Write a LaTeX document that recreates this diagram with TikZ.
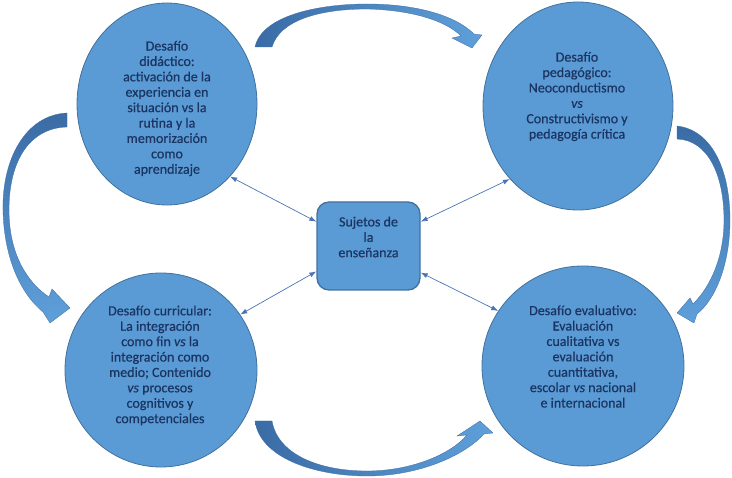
\documentclass[tikz,border=0pt]{standalone}
\usepackage{fontspec}
\setmainfont[FakeBold=0.6]{Carlito}
\usetikzlibrary{shapes.geometric,arrows.meta}
\definecolor{ellfill}{HTML}{5B9BD5}
\definecolor{ellborder}{HTML}{41719C}
\definecolor{txtcol}{HTML}{1B3562}
\definecolor{linkcol}{HTML}{4A74B5}
\definecolor{arrowdark}{HTML}{3A6BA5}
\definecolor{arrowlight}{HTML}{5FA0DA}
\begin{document}
\begin{tikzpicture}[x=1pt,y=-1pt,
  ell/.style={ellipse,draw=ellborder,fill=ellfill,line width=0.8pt,inner sep=0pt},
  centre/.style={rectangle,rounded corners=12pt,draw=ellborder,fill=ellfill,line width=1.3pt,inner sep=0pt,minimum width=103pt,minimum height=88pt},
  txt/.style={text=txtcol,align=center,font=\fontsize{14}{15.4}\selectfont,inner sep=0pt},
  link/.style={draw=linkcol,line width=0.7pt,{Latex[length=7pt,width=5pt]}-{Latex[length=7pt,width=5pt]}},
  barrow/.style={draw=arrowdark,line width=0.3pt}]
\useasboundingbox (0,0) rectangle (732,478);

% curved block arrows
\shade[barrow,left color=arrowdark,right color=arrowlight]
  (255,47) .. controls (262,15) and (320,4) .. (367,4)
  .. controls (415,4) and (455,15) .. (474,34)
  -- (482,35) -- (472,48) -- (452,38) -- (461,36)
  .. controls (445,20) and (410,10) .. (367,9)
  .. controls (320,9) and (280,20) .. (272,47) -- cycle;
\shade[barrow,left color=arrowdark,right color=arrowlight]
  (255,421) .. controls (260,458) and (315,476) .. (367,476)
  .. controls (420,476) and (465,455) .. (484,434)
  -- (493,433) -- (480,421) -- (457,436) -- (467,435)
  .. controls (450,455) and (410,471) .. (367,471)
  .. controls (320,471) and (278,455) .. (272,421) -- cycle;
\shade[barrow,top color=arrowdark,bottom color=arrowlight]
  (67,113) .. controls (25,115) and (2,160) .. (3,210)
  .. controls (4,260) and (22,295) .. (43,312)
  -- (50,323) -- (70,308) -- (52,289) -- (49,297)
  .. controls (28,283) and (9,255) .. (9,210)
  .. controls (9,160) and (30,128) .. (67,127) -- cycle;
\shade[barrow,top color=arrowdark,bottom color=arrowlight]
  (677,126) .. controls (712,130) and (730,170) .. (730,220)
  .. controls (730,265) and (715,300) .. (697,314)
  -- (694,323) -- (677,313) -- (690,298) -- (693,304)
  .. controls (712,285) and (724,255) .. (724,220)
  .. controls (724,175) and (708,140) .. (677,139) -- cycle;

% shapes
\node[ell,minimum width=180pt,minimum height=202pt] (tl) at (167,104) {};
\node[ell,minimum width=190pt,minimum height=208pt] (tr) at (578,106) {};
\node[ell,minimum width=192pt,minimum height=194pt] (bl) at (161,370) {};
\node[ell,minimum width=202pt,minimum height=200pt] (br) at (583,366) {};
\node[centre] (box) at (368.5,246) {};

% texts
\node[txt] (tltxt) at (167,108.5) {Desafío\\didáctico:\\activación de la\\experiencia en\\situación vs la\\rutina y la\\memorización\\como\\aprendizaje};
\node[txt] (trtxt) at (577,96.5) {Desafío\\pedagógico:\\Neoconductismo\\\textit{vs}\\Constructivismo y\\pedagogía crítica};
\node[txt] (bltxt) at (160,365.5) {Desafío curricular:\\La integración\\como fin \textit{vs} la\\integración como\\medio; Contenido\\\textit{vs} procesos\\cognitivos y\\competenciales};
\node[txt] (brtxt) at (583,356.5) {Desafío evaluativo:\\Evaluación\\cualitativa vs\\evaluación\\cuantitativa,\\escolar \textit{vs} nacional\\e internacional};
\node[txt] (boxtxt) at (368.5,237) {Sujetos de\\la\\enseñanza};

% connectors
\draw[link] (box.155) -- (tl.-49);
\draw[link] (box.25) -- (tr.227);
\draw[link] (box.206.6) -- (bl.35.5);
\draw[link] (box.333.4) -- (br.147.5);
\end{tikzpicture}
\end{document}
